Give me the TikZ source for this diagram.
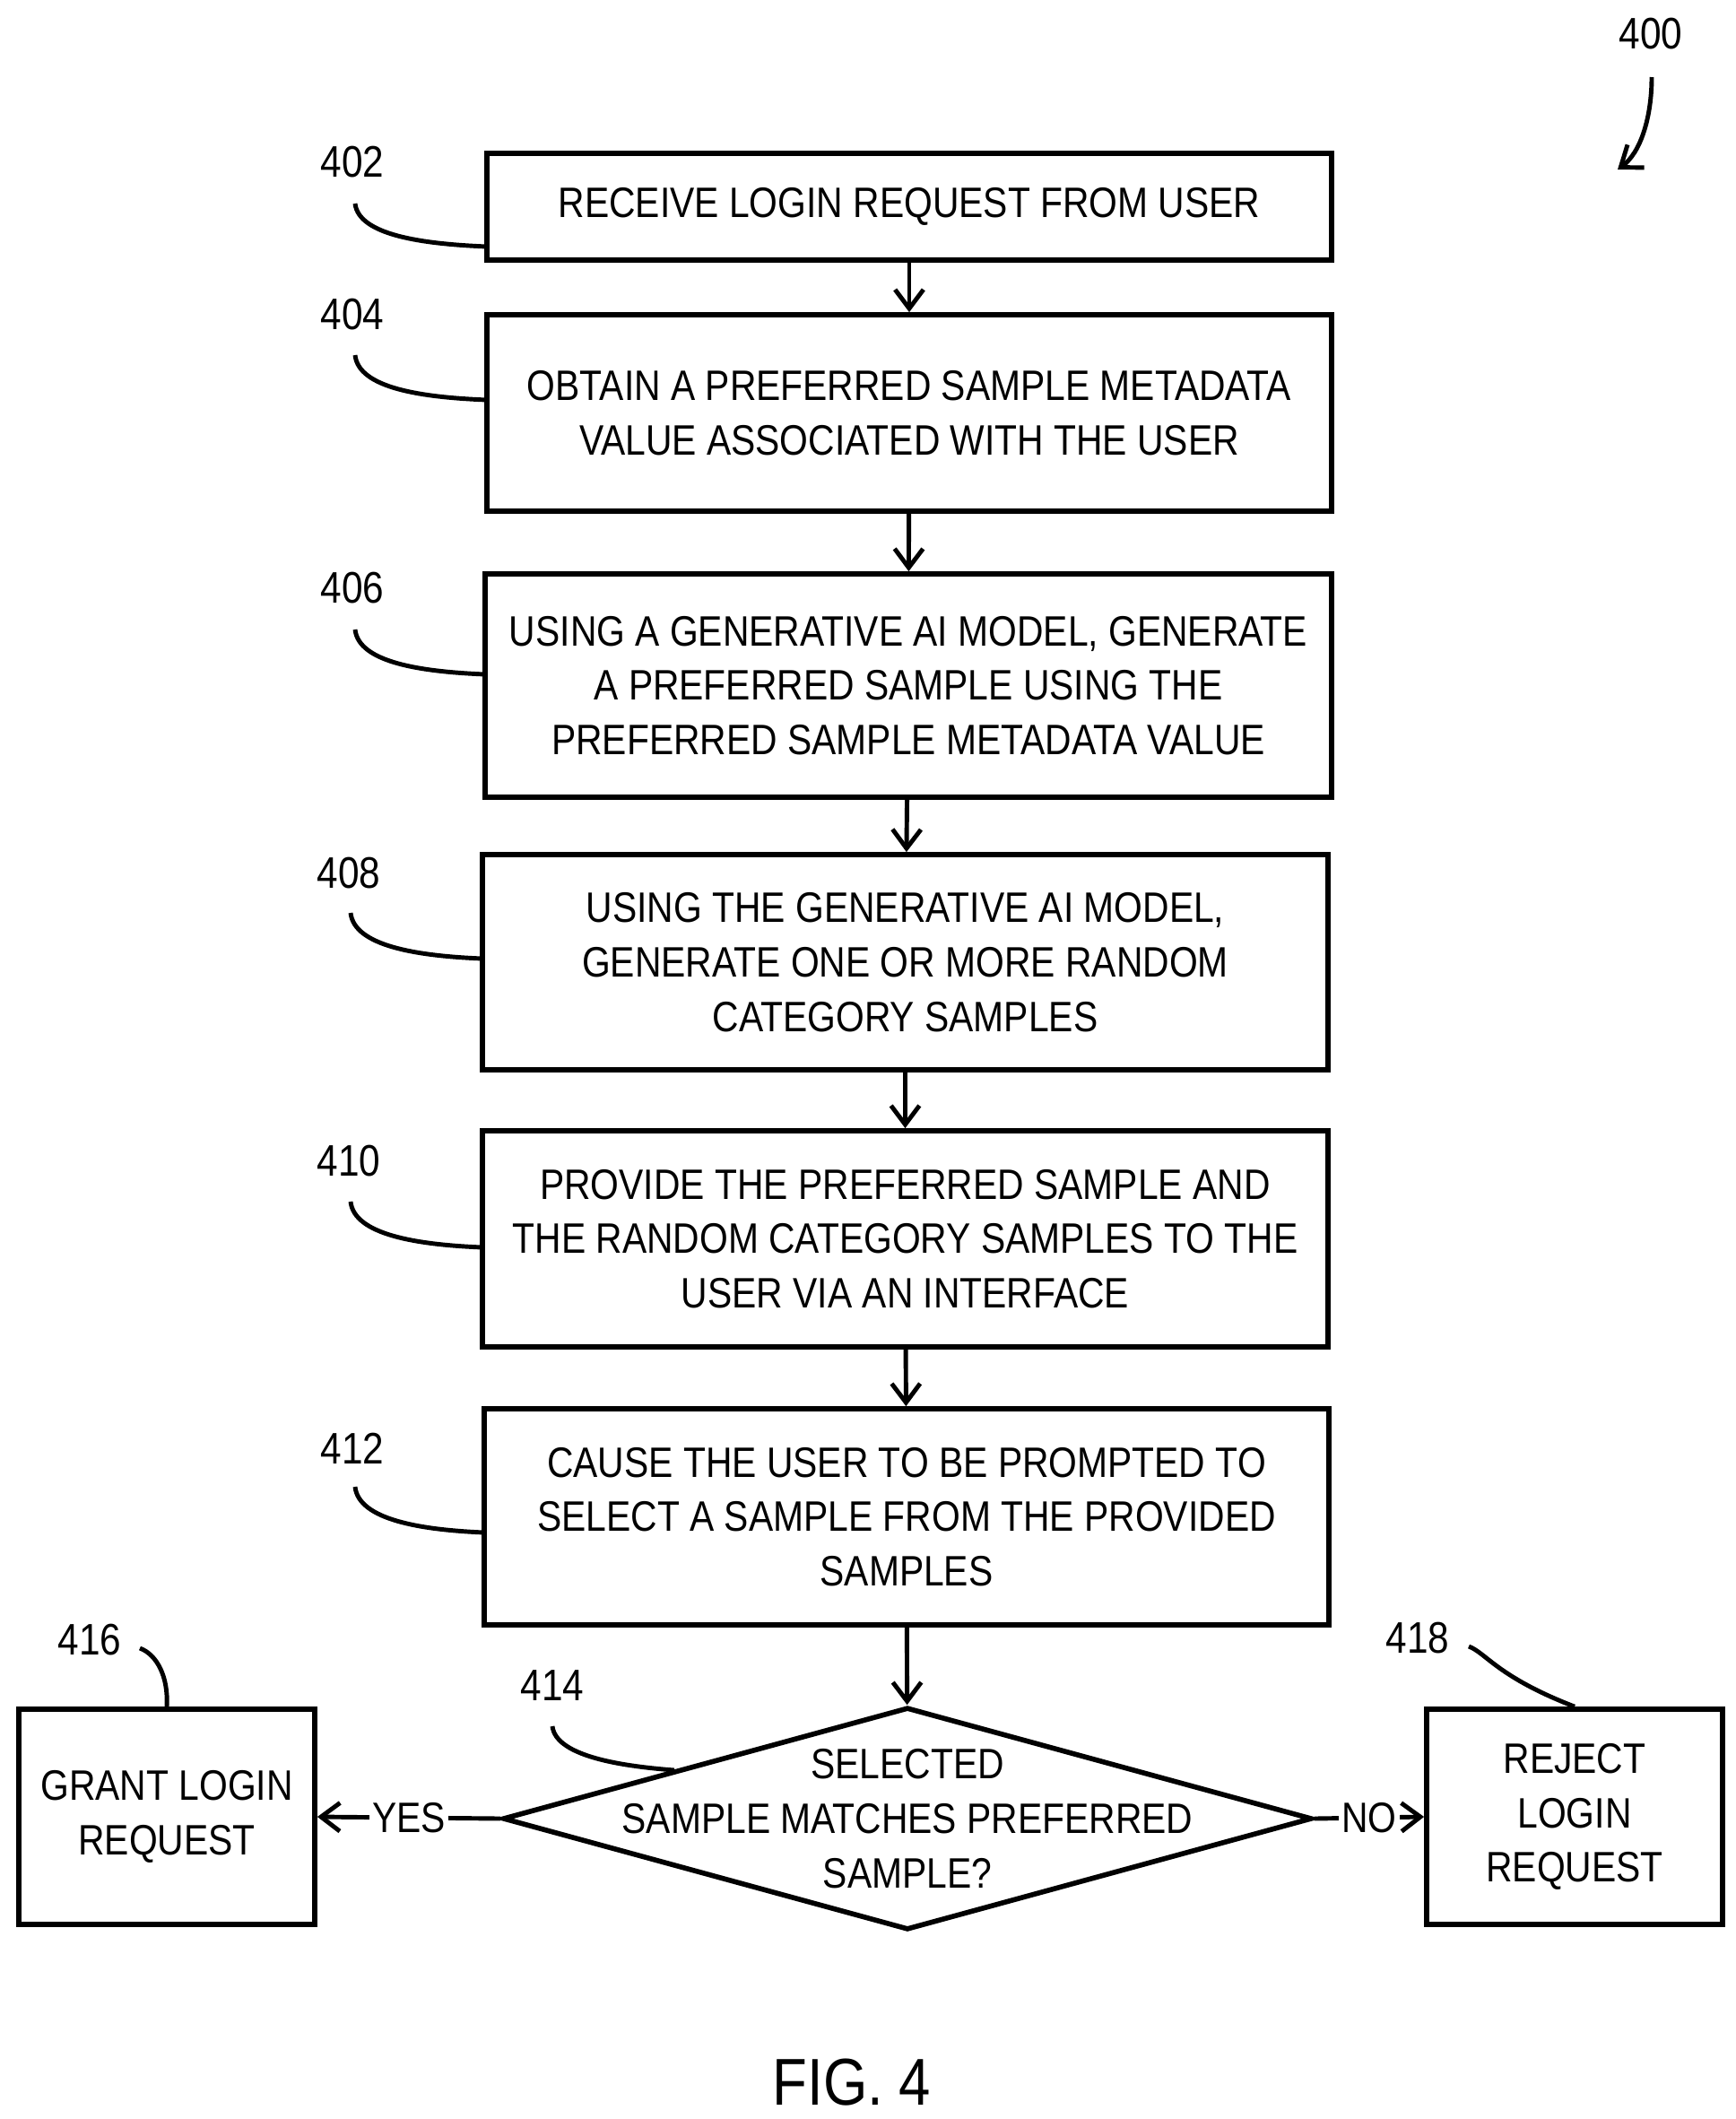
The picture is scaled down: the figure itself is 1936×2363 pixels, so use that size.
\documentclass[tikz,border=0pt]{standalone}
\usepackage{fontspec}
\setmainfont{Liberation Sans}[FakeStretch=0.86]
\usetikzlibrary{shapes.geometric,arrows.meta}
\begin{document}
\begin{tikzpicture}[x=0.01cm,y=-0.01cm,
  box/.style={draw,line width=1.6pt,align=center,inner sep=0pt,font=\fontsize{13.5}{17.3}\selectfont},
  lbl/.style={font=\fontsize{14}{17}\selectfont},
  lead/.style={line width=1.4pt},
  arr/.style={line width=1.4pt,-{Straight Barb[length=6pt,width=9pt]}}]
\useasboundingbox (0,0) rectangle (1936,2363);
\node[box,minimum width=9.42cm,minimum height=1.19cm] (b402) at (1014,230.5) {RECEIVE LOGIN REQUEST FROM USER};
\node[box,minimum width=9.42cm,minimum height=2.19cm] (b404) at (1014,460.5) {OBTAIN A PREFERRED SAMPLE METADATA\\VALUE ASSOCIATED WITH THE USER};
\node[box,minimum width=9.44cm,minimum height=2.49cm] (b406) at (1013,764.5) {USING A GENERATIVE AI MODEL, GENERATE\\A PREFERRED SAMPLE USING THE\\PREFERRED SAMPLE METADATA VALUE};
\node[box,minimum width=9.43cm,minimum height=2.40cm] (b408) at (1009.5,1073) {USING THE GENERATIVE AI MODEL,\\GENERATE ONE OR MORE RANDOM\\CATEGORY SAMPLES};
\node[box,minimum width=9.43cm,minimum height=2.41cm] (b410) at (1009.5,1381.5) {PROVIDE THE PREFERRED SAMPLE AND\\THE RANDOM CATEGORY SAMPLES TO THE\\USER VIA AN INTERFACE};
\node[box,minimum width=9.42cm,minimum height=2.41cm] (b412) at (1011,1691.5) {CAUSE THE USER TO BE PROMPTED TO\\SELECT A SAMPLE FROM THE PROVIDED\\SAMPLES};
\node[draw,line width=1.6pt,diamond,inner sep=0pt,minimum width=9.02cm,minimum height=2.48cm] (b414) at (1012,2028) {};
\node[box,draw=none] (t414) at (1012,2028) {SELECTED\\SAMPLE MATCHES PREFERRED\\SAMPLE?};
\node[box,minimum width=3.30cm,minimum height=2.40cm] (b416) at (186,2026) {GRANT LOGIN\\REQUEST};
\node[box,minimum width=3.30cm,minimum height=2.40cm] (b418) at (1756,2026) {REJECT\\LOGIN\\REQUEST};
\draw[arr] (b402) -- (b404);
\draw[arr] (b404) -- (b406);
\draw[arr] (b406) -- (b408);
\draw[arr] (b408) -- (b410);
\draw[arr] (b410) -- (b412);
\draw[arr] (b412) -- (b414);
\draw[arr] (b414.west) -- node[fill=white,inner sep=1pt,font=\fontsize{13.5}{16}\selectfont]{YES} (b416.east);
\draw[arr] (b414.east) -- node[fill=white,inner sep=1pt,font=\fontsize{13.5}{16}\selectfont]{NO} (b418.west);
\node[lbl] (l402) at (393,181) {402};
\node[lbl] (l404) at (393,351) {404};
\node[lbl] (l406) at (393,656) {406};
\node[lbl] (l408) at (389,974) {408};
\node[lbl] (l410) at (389,1295) {410};
\node[lbl] (l412) at (393,1615) {412};
\node[lbl] (l414) at (616,1880) {414};
\node[lbl] (l416) at (100,1829) {416};
\node[lbl] (l418) at (1581,1827) {418};
\node[lbl] (l400) at (1841,38) {400};
\node[font=\fontsize{21}{24}\selectfont] (fig) at (950,2322) {FIG. 4};
\coordinate (e402) at (543,275);
\coordinate (e404) at (543,446);
\coordinate (e406) at (541,752);
\coordinate (e408) at (538,1069);
\coordinate (e410) at (538,1391);
\coordinate (e412) at (540,1709);
\coordinate (e414) at (752,1974);
\draw[lead] (396,227) .. controls (400,262) and (470,272) .. (e402);
\draw[lead] (396,396) .. controls (400,433) and (470,443) .. (e404);
\draw[lead] (396,702) .. controls (400,739) and (470,749) .. (e406);
\draw[lead] (391,1018) .. controls (395,1055) and (465,1066) .. (e408);
\draw[lead] (391,1340) .. controls (395,1377) and (465,1388) .. (e410);
\draw[lead] (396,1658) .. controls (400,1695) and (470,1706) .. (e412);
\draw[lead] (616,1925) .. controls (620,1960) and (700,1970) .. (e414);
\draw[lead] (156,1838) .. controls (175,1845) and (188,1870) .. (b416.north);
\draw[lead] (1638,1836) .. controls (1657,1843) and (1670,1870) .. (b418.north);
\draw[arr] (1842,86) .. controls (1842,130) and (1830,170) .. (1804,189);
\end{tikzpicture}
\end{document}
